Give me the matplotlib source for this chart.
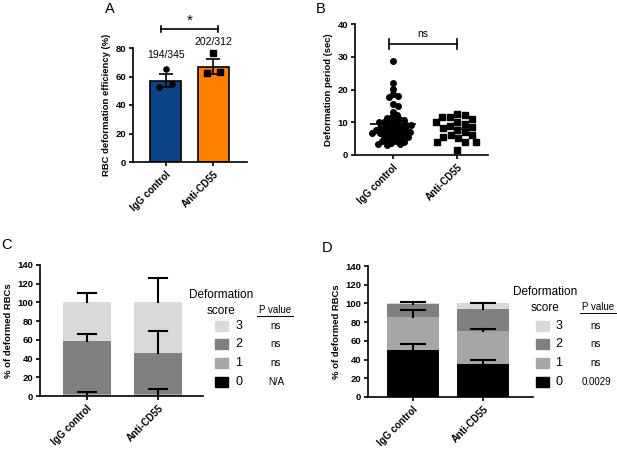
import numpy as np
import matplotlib
matplotlib.use('Agg')
import matplotlib.pyplot as plt

plt.rcParams['font.family'] = ['Liberation Sans', 'DejaVu Sans']

W, H = 617, 453

# ---- data ----
groups = ['IgG control', 'Anti-CD55']

# A: deformation efficiency
eff_mean = [57.1, 66.9]
eff_sem = [4.4, 5.1]
eff_pts_igg = [65.3, 52.8, 54.7]
eff_pts_anti = [76.7, 62.2, 62.9]
eff_counts = ['194/345', '202/312']
eff_colors = ['#0c4387', '#ff8000']

# B: deformation period (sec)
period_igg = [28.8, 22.0, 20.3, 18.5, 18.0, 17.6, 15.5, 15.1, 13.0, 12.3,
              11.6, 11.2, 11.0, 10.6, 10.3, 10.1, 10.0, 9.7, 9.5, 9.3,
              9.1, 8.9, 8.7, 8.5, 8.3, 8.1, 7.9, 7.7, 7.5, 7.3,
              7.1, 7.0, 6.9, 6.7, 6.6, 6.4, 6.2, 6.0, 5.8, 5.5,
              5.2, 5.0, 4.7, 4.4, 4.2, 4.0, 3.8, 3.5, 3.3, 3.1]
period_anti = [12.6, 12.1, 11.6, 11.5, 11.0, 10.2, 10.0, 9.6, 9.0, 8.6,
               8.1, 7.6, 7.1, 6.1, 6.0, 5.6, 5.1, 4.1, 4.0, 3.9, 1.5]
period_sem = [0.7, 0.7]

# C/D: stacked deformation scores (0,1,2,3)
scores = ['0', '1', '2', '3']
score_colors = ['#000000', '#a6a6a6', '#808080', '#d9d9d9']
c_vals = {'IgG control': [0.0, 2.0, 56.5, 41.5], 'Anti-CD55': [0.0, 2.5, 43.5, 54.0]}
c_errs = {'IgG control': [0.0, 2.5, 7.5, 10.0], 'Anti-CD55': [0.0, 4.5, 23.0, 26.0]}
c_pvals = ['N/A', 'ns', 'ns', 'ns']
d_vals = {'IgG control': [50.0, 35.5, 13.5, 1.0], 'Anti-CD55': [35.0, 35.5, 24.0, 5.5]}
d_errs = {'IgG control': [6.5, 7.0, 2.0, 0.0], 'Anti-CD55': [5.0, 2.0, 6.0, 0.0]}
d_pvals = ['0.0029', 'ns', 'ns', 'ns']

fig = plt.figure(figsize=(W / 100, H / 100), dpi=100)


def add_ax(l, r, t, b):
    return fig.add_axes([l / W, 1 - b / H, (r - l) / W, (b - t) / H])


def px(x, y):
    return x / W, 1 - y / H


def style(ax, ylabel, yticks):
    for s in ['top', 'right']:
        ax.spines[s].set_visible(False)
    for s in ['left', 'bottom']:
        ax.spines[s].set_linewidth(1.2)
    ax.set_yticks(yticks)
    ax.set_xticks([0, 1])
    ax.set_xticklabels(groups, rotation=45, ha='right', rotation_mode='anchor',
                       fontsize=7, fontweight='bold')
    for lab in ax.get_yticklabels():
        lab.set_fontsize(6.8)
        lab.set_fontweight('bold')
    ax.tick_params(length=3, width=1.2, pad=2)
    ax.set_ylabel(ylabel, fontsize=6.8, fontweight='bold', labelpad=3)


# ---- A ----
axA = add_ax(133, 247, 48, 162)
axA.bar([0, 1], eff_mean, width=0.65, color=eff_colors, edgecolor='black', linewidth=1.2)
axA.errorbar([0, 1], eff_mean, yerr=eff_sem, fmt='none', ecolor='black',
             elinewidth=1.2, capsize=5, capthick=1.2)
axA.scatter([0, -0.13, 0.13], eff_pts_igg, marker='o', s=14, color='black', zorder=3)
axA.scatter([1, 0.87, 1.13], eff_pts_anti, marker='s', s=14, color='black', zorder=3)
axA.set_xlim(-0.68, 1.70)
axA.set_ylim(0, 80)
style(axA, 'RBC deformation efficiency (%)', [0, 20, 40, 60, 80])
axA.text(0, 75, eff_counts[0], ha='center', va='center', fontsize=7.5)
axA.text(1, 84.2, eff_counts[1], ha='center', va='center', fontsize=7.5)
axA.plot([-0.1, 1.1], [93.5, 93.5], color='black', lw=1.2, clip_on=False)
axA.plot([-0.1, -0.1], [91.5, 95.5], color='black', lw=1.2, clip_on=False)
axA.plot([1.1, 1.1], [91.5, 95.5], color='black', lw=1.2, clip_on=False)
axA.text(0.5, 94.2, '*', ha='center', va='bottom', fontsize=11)
fig.text(*px(110, 9), 'A', fontsize=10.5, ha='center', va='center')

# ---- B ----
axB = add_ax(355, 488, 24, 155)
pxx, pxy = 64.0, 131 / 40.0


def swarm(vals, center, d):
    placed = []
    xs = []
    for v in sorted(vals, reverse=True):
        yv = v * pxy
        best = None
        for k in range(0, 60):
            for sgn in ([0] if k == 0 else [1, -1]):
                off = sgn * k * 1.0
                if all((off - ox) ** 2 + (yv - oy) ** 2 >= d * d for ox, oy in placed):
                    best = off
                    break
            if best is not None:
                break
        placed.append((best, yv))
        xs.append((center + best / pxx, v))
    return np.array(xs)


sw1 = swarm(period_igg, 0, 4.6)
sw2 = swarm(period_anti, 1, 7.5)
axB.scatter(sw1[:, 0], sw1[:, 1], marker='o', s=16, color='black', zorder=3, clip_on=False)
axB.scatter(sw2[:, 0], sw2[:, 1], marker='s', s=16, color='black', zorder=3, clip_on=False)
means = [np.mean(period_igg), np.mean(period_anti)]
axB.hlines(means, [-0.36, 1 - 0.27], [0.36, 1 + 0.27], color='black', lw=1.2, zorder=4)
axB.errorbar([0, 1], means, yerr=period_sem, fmt='none', ecolor='black',
             elinewidth=1.0, capsize=3, capthick=1.0, zorder=4)
axB.set_xlim(-0.594, 1.484)
axB.set_ylim(0, 40)
style(axB, 'Deformation period (sec)', [0, 10, 20, 30, 40])
axB.plot([-0.06, 1.0], [34, 34], color='black', lw=1.2)
axB.plot([-0.06, -0.06], [32.5, 35.5], color='black', lw=1.2)
axB.plot([1.0, 1.0], [32.5, 35.5], color='black', lw=1.2)
axB.text(0.47, 35.5, 'ns', ha='center', va='bottom', fontsize=7.5)
fig.text(*px(321, 9), 'B', fontsize=10.5, ha='center', va='center')


# ---- C / D ----
def stacked(ax, vals, errs, width, cap):
    for i, g in enumerate(groups):
        bottom = 0
        for j in range(4):
            ax.bar(i, vals[g][j], width=width, bottom=bottom, color=score_colors[j],
                   linewidth=0)
            bottom += vals[g][j]
        bottom = 0
        for j in range(4):
            bottom += vals[g][j]
            if errs[g][j] > 0:
                ax.plot([i, i], [bottom, bottom + errs[g][j]], color='black', lw=1.5)
                ax.plot([i - cap, i + cap], [bottom + errs[g][j]] * 2, color='black', lw=1.5)
    ax.set_ylim(0, 140)
    style(ax, '% of deformed RBCs', list(range(0, 141, 20)))


def legend(x_title, y_title, x_box, x_num, x_p, pvals, x_pt):
    fig.text(*px(x_title, y_title), 'Deformation', fontsize=8.5, ha='center', va='center')
    fig.text(*px(x_title, y_title + 16), 'score', fontsize=8.5, ha='center', va='center')
    fig.text(*px(x_pt, y_title + 15), 'P value', fontsize=7, ha='center', va='center')
    fig.lines.append(plt.Line2D([(x_pt - 18) / W, (x_pt + 18) / W],
                                [1 - (y_title + 21) / H] * 2, color='black', lw=0.7,
                                transform=fig.transFigure))
    rows = [382, 363, 344, 326]
    for j in range(4):
        yy = rows[j]
        fig.patches.append(plt.Rectangle(px(x_box, yy + 5), 13 / W, 10 / H,
                                         color=score_colors[j], transform=fig.transFigure))
        fig.text(*px(x_num, yy), scores[j], fontsize=9, ha='center', va='center')
        fig.text(*px(x_p, yy), pvals[j], fontsize=7, ha='center', va='center')


axC = add_ax(40, 203, 265, 396)
stacked(axC, c_vals, c_errs, 0.676, 0.12)
axC.set_xlim(-0.662, 1.634)
legend(221, 295, 215, 239, 276, c_pvals, 275)
fig.text(*px(7, 245), 'C', fontsize=10.5, ha='center', va='center')

axD = add_ax(368, 533, 266, 397)
stacked(axD, d_vals, d_errs, 0.743, 0.17)
axD.set_xlim(-0.643, 1.714)
legend(545, 292, 536, 559, 596, d_pvals, 598)
fig.text(*px(327, 248), 'D', fontsize=10.5, ha='center', va='center')

fig.savefig('out.png', dpi=100)
